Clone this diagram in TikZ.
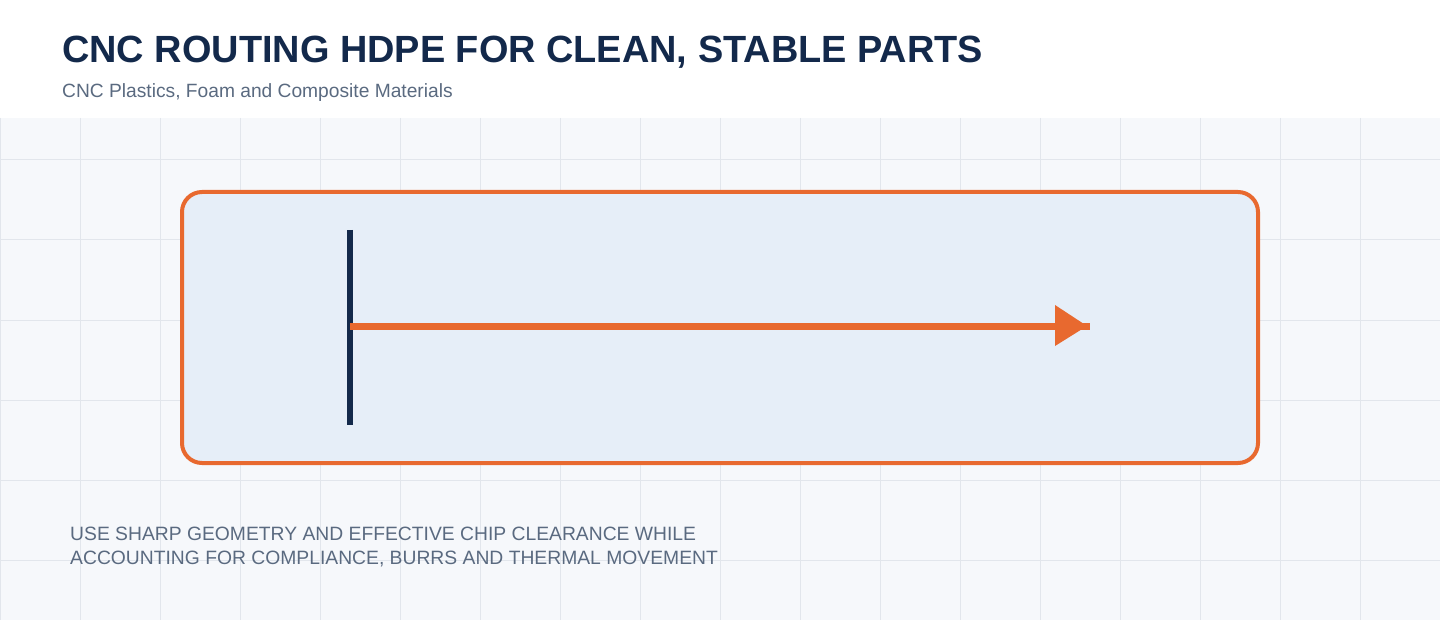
\documentclass[tikz,border=0pt]{standalone}
\usepackage{fontspec}
\setmainfont{Liberation Sans}
\definecolor{navy}{HTML}{13294B}
\definecolor{sub}{HTML}{5A6A80}
\definecolor{orng}{HTML}{E8692F}
\definecolor{boxfill}{HTML}{E6EEF8}
\definecolor{bgc}{HTML}{F6F8FB}
\definecolor{gridc}{HTML}{E2E6EC}
\tikzset{
  titletext/.style={anchor=base west, inner sep=0pt, text=navy, font=\fontsize{37.9}{44}\selectfont\bfseries},
  subtext/.style={anchor=base west, inner sep=0pt, text=sub, font=\fontsize{19.2}{22}\selectfont},
  notetext/.style={anchor=north west, inner sep=0pt, text=sub, align=left, font=\fontsize{19.3}{24}\selectfont},
  panel/.style={draw=orng, line width=4pt, fill=boxfill, rounded corners=20pt},
}
\begin{document}
\begin{tikzpicture}[x=1pt,y=-1pt]
\useasboundingbox (0,0) rectangle (1440,620);
\fill[white] (0,0) rectangle (1440,118);
\fill[bgc] (0,118) rectangle (1440,620);
\foreach \i in {0,80,...,1440} \draw[gridc, line width=1pt] (\i,118) -- (\i,620);
\foreach \j in {160,240,...,560} \draw[gridc, line width=1pt] (0,\j) -- (1440,\j);
\node[titletext] (title) at (62,63) {CNC ROUTING HDPE FOR CLEAN, STABLE PARTS};
\node[subtext] (subtitle) at (62,98) {CNC Plastics, Foam and Composite Materials};
\path[panel] (182,192) rectangle (1258,463);
\coordinate (start) at (350,326);
\coordinate (finish) at (1090,326);
\draw[navy, line width=6pt] (350,230) -- (350,425);
\draw[orng, line width=7pt] (start) -- (finish);
\fill[orng] (1055,305) -- (1087,326) -- (1055,346) -- cycle;
\node[notetext] (note) at (70,527) {USE SHARP GEOMETRY AND EFFECTIVE CHIP CLEARANCE WHILE\\ACCOUNTING FOR COMPLIANCE, BURRS AND THERMAL MOVEMENT};
\end{tikzpicture}
\end{document}
